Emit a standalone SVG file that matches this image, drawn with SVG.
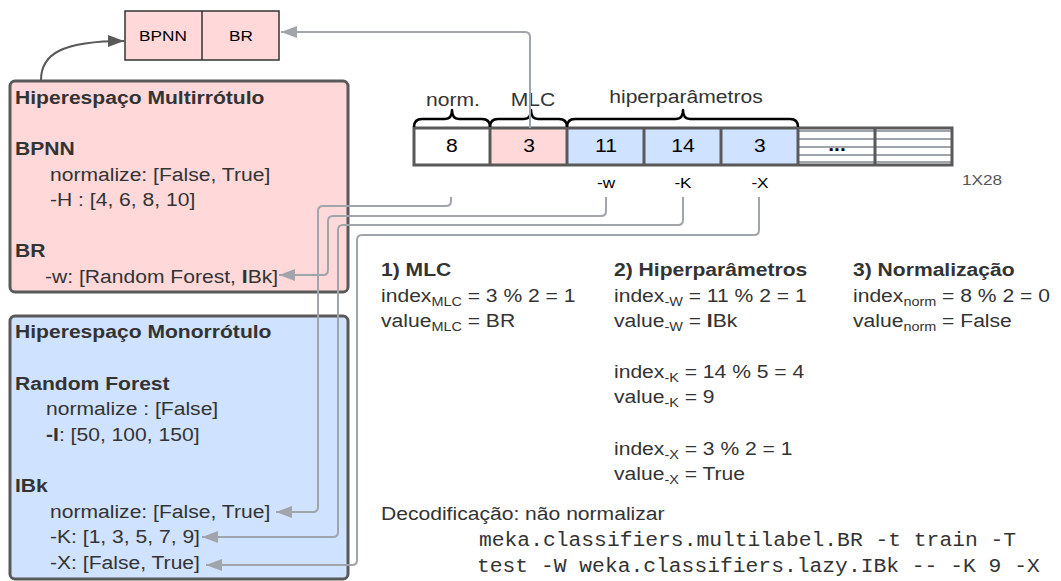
<svg xmlns="http://www.w3.org/2000/svg" width="1061" height="581" viewBox="0 0 1061 581">
  <style>
    text { font-family: "Liberation Sans", Arial, sans-serif; font-size: 19px; fill: #333333;
           transform-box: fill-box; transform-origin: 0 0; transform: scaleX(1.11); }
    text.mid { text-anchor: middle; transform-origin: 50% 0; }
    text.b, tspan.b { font-weight: bold; }
    text.k { fill: #000000; }
    text.sm { font-size: 15.5px; }
    text.mono { font-family: "Liberation Mono", "Courier New", monospace; font-size: 20.5px; transform: scaleX(1.04); }
    tspan.sub { font-size: 13px; }
    .box { stroke: #595959; stroke-width: 3; }
    .pink { fill: #ffd9d9; }
    .blue { fill: #cfe2ff; }
    .cell { stroke: #595959; stroke-width: 3; }
    .hatch { stroke: #a0a4ab; stroke-width: 2; }
    .brace { fill: none; stroke: #000000; stroke-width: 2.5; stroke-linejoin: round; }
    .link { fill: none; stroke: #a0a4ab; stroke-width: 2; }
    .link-dark { fill: none; stroke: #595959; stroke-width: 2; }
  </style>
  <defs>
    <marker id="arrow-grey" viewBox="0 0 16 12" refX="16" refY="6" markerWidth="16" markerHeight="12" orient="auto" markerUnits="userSpaceOnUse">
      <path d="M0 0 L16 6 L0 12 z" fill="#a0a4ab"/>
    </marker>
    <marker id="arrow-dark" viewBox="0 0 16 12" refX="16" refY="6" markerWidth="16" markerHeight="12" orient="auto" markerUnits="userSpaceOnUse">
      <path d="M0 0 L16 6 L0 12 z" fill="#595959"/>
    </marker>
  </defs>

  <rect width="1061" height="581" fill="#ffffff"/>

  <!-- selected multi-label method options -->
  <g id="mlc-choices">
    <rect x="125" y="11" width="154" height="49" class="pink" stroke="#333333" stroke-width="1.5"/>
    <line x1="202" y1="11" x2="202" y2="60" stroke="#333333" stroke-width="1.5"/>
    <text class="mid k sm" x="163" y="41">BPNN</text>
    <text class="mid k sm" x="241" y="41">BR</text>
  </g>

  <!-- multi-label hyperspace -->
  <g id="multilabel-space">
    <rect x="10" y="81" width="338" height="211" rx="5" class="box pink"/>
    <text class="b" x="15" y="104">Hiperespaço Multirrótulo</text>
    <text class="b" x="15" y="155">BPNN</text>
    <text x="50" y="181">normalize: [False, True]</text>
    <text x="50" y="206">-H : [4, 6, 8, 10]</text>
    <text class="b" x="15" y="257">BR</text>
    <text x="45" y="283">-w: [Random Forest, <tspan class="b">I</tspan>Bk]</text>
  </g>

  <!-- single-label hyperspace -->
  <g id="singlelabel-space">
    <rect x="10" y="316" width="338" height="263" rx="5" class="box blue"/>
    <text class="b" x="15" y="338">Hiperespaço Monorrótulo</text>
    <text class="b" x="15" y="390">Random Forest</text>
    <text x="46" y="415">normalize : [False]</text>
    <text x="46" y="441"><tspan class="b">-I</tspan>: [50, 100, 150]</text>
    <text class="b" x="15" y="492">IBk</text>
    <text x="50" y="518">normalize: [False, True]</text>
    <text x="50" y="543">-K: [1, 3, 5, 7, 9]</text>
    <text x="50" y="569">-X: [False, True]</text>
  </g>

  <!-- 1x28 chromosome -->
  <g id="chromosome">
    <rect x="414" y="128" width="76" height="37" fill="#ffffff"/>
    <rect x="490" y="128" width="77" height="37" class="pink"/>
    <rect x="567" y="128" width="231" height="37" class="blue"/>
    <rect x="798" y="128" width="154" height="37" fill="#ffffff"/>
    <g class="hatch">
      <line x1="799" y1="131" x2="951" y2="131"/>
      <line x1="799" y1="139" x2="951" y2="139"/>
      <line x1="799" y1="147" x2="951" y2="147"/>
      <line x1="799" y1="155" x2="951" y2="155"/>
      <line x1="799" y1="162" x2="951" y2="162"/>
    </g>
    <rect x="414" y="128" width="538" height="37" fill="none" class="cell"/>
    <g class="cell">
      <line x1="490" y1="128" x2="490" y2="165"/>
      <line x1="567" y1="128" x2="567" y2="165"/>
      <line x1="644" y1="128" x2="644" y2="165"/>
      <line x1="721" y1="128" x2="721" y2="165"/>
      <line x1="798" y1="128" x2="798" y2="165"/>
      <line x1="875" y1="128" x2="875" y2="165"/>
    </g>
    <text class="mid k" x="452" y="152">8</text>
    <text class="mid k" x="529" y="152">3</text>
    <text class="mid k" x="606" y="152">11</text>
    <text class="mid k" x="683" y="152">14</text>
    <text class="mid k" x="760" y="152">3</text>
    <text class="mid k b" x="837" y="151">...</text>

    <path class="brace" d="M414 127 Q414 119 422 119 H445 Q452 119 452 110 Q452 119 459 119 H482 Q490 119 490 127"/>
    <path class="brace" d="M490 127 Q490 119 498 119 H524 Q531 119 531 110 Q531 119 538 119 H559 Q567 119 567 127"/>
    <path class="brace" d="M567 127 Q567 119 575 119 H676 Q683 119 683 110 Q683 119 690 119 H790 Q798 119 798 127"/>
    <text class="mid" x="453" y="106">norm.</text>
    <text class="mid" x="533" y="106">MLC</text>
    <text class="mid" x="686" y="103">hiperparâmetros</text>

    <text class="mid k sm" x="606" y="188">-w</text>
    <text class="mid k sm" x="683" y="188">-K</text>
    <text class="mid k sm" x="760" y="188">-X</text>
    <text class="sm" x="962" y="185" style="fill:#555555">1X28</text>
  </g>

  <!-- decoding steps -->
  <g id="decode-mlc">
    <text class="b" x="381" y="276">1) MLC</text>
    <text x="381" y="302">index<tspan class="sub" dy="4">MLC</tspan><tspan dy="-4"> = 3 % 2 = 1</tspan></text>
    <text x="381" y="327">value<tspan class="sub" dy="4">MLC</tspan><tspan dy="-4"> = BR</tspan></text>
  </g>
  <g id="decode-hyper">
    <text class="b" x="614" y="276">2) Hiperparâmetros</text>
    <text x="614" y="302">index<tspan class="sub" dy="4">-W</tspan><tspan dy="-4"> = 11 % 2 = 1</tspan></text>
    <text x="614" y="327">value<tspan class="sub" dy="4">-W</tspan><tspan dy="-4"> = </tspan><tspan class="b">I</tspan>Bk</text>
    <text x="614" y="378">index<tspan class="sub" dy="4">-K</tspan><tspan dy="-4"> = 14 % 5 = 4</tspan></text>
    <text x="614" y="403">value<tspan class="sub" dy="4">-K</tspan><tspan dy="-4"> = 9</tspan></text>
    <text x="614" y="455">index<tspan class="sub" dy="4">-X</tspan><tspan dy="-4"> = 3 % 2 = 1</tspan></text>
    <text x="614" y="480">value<tspan class="sub" dy="4">-X</tspan><tspan dy="-4"> = True</tspan></text>
  </g>
  <g id="decode-norm">
    <text class="b" x="853" y="276">3) Normalização</text>
    <text x="853" y="302">index<tspan class="sub" dy="4">norm</tspan><tspan dy="-4"> = 8 % 2 = 0</tspan></text>
    <text x="853" y="327">value<tspan class="sub" dy="4">norm</tspan><tspan dy="-4"> = False</tspan></text>
  </g>
  <g id="decode-command">
    <text x="381" y="520">Decodificação: não normalizar</text>
    <text class="mono" x="479" y="546">meka.classifiers.multilabel.BR -t train -T</text>
    <text class="mono" x="477" y="572">test -W weka.classifiers.lazy.IBk -- -K 9 -X</text>
  </g>

  <!-- connectors -->
  <g id="connectors">
    <path class="link-dark" d="M41 80 C41 54 62 41 124 41" marker-end="url(#arrow-dark)"/>
    <path class="link" d="M530 128 V37 Q530 32 525 32 H281" marker-end="url(#arrow-grey)"/>
    <path class="link" d="M451 197 V201 Q451 206 446 206 H323 Q318 206 318 211 V507 Q318 512 313 512 H276" marker-end="url(#arrow-grey)"/>
    <path class="link" d="M606 197 V211 Q606 216 601 216 H333 Q328 216 328 221 V270 Q328 275 323 275 H279" marker-end="url(#arrow-grey)"/>
    <path class="link" d="M683 197 V220 Q683 225 678 225 H343 Q338 225 338 230 V532 Q338 537 333 537 H202" marker-end="url(#arrow-grey)"/>
    <path class="link" d="M759 197 V230 Q759 235 754 235 H362 Q357 235 357 240 V560 Q357 565 352 565 H206" marker-end="url(#arrow-grey)"/>
  </g>
</svg>
